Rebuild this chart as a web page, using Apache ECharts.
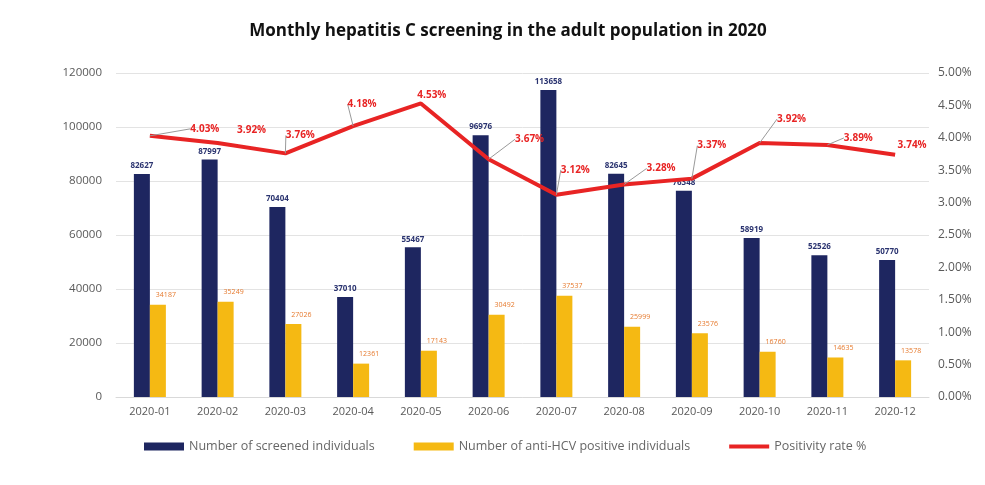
<!DOCTYPE html>
<html><head><meta charset="utf-8">
<script src="https://cdn.jsdelivr.net/npm/echarts@6/dist/echarts.min.js"></script>
<style>html,body{margin:0;padding:0;background:#fff}#c{width:985px;height:485px}</style>
</head><body><div id="c"></div>
<script>
const categories = ['2020-01','2020-02','2020-03','2020-04','2020-05','2020-06','2020-07','2020-08','2020-09','2020-10','2020-11','2020-12'];
const screened = [82627, 87997, 70404, 37010, 55467, 96976, 113658, 82645, 76348, 58919, 52526, 50770];
const positive = [34187, 35249, 27026, 12361, 17143, 30492, 37537, 25999, 23576, 16760, 14635, 13578];
const rate = [4.03, 3.92, 3.76, 4.18, 4.53, 3.67, 3.12, 3.28, 3.37, 3.92, 3.89, 3.74];
const leftTicks = [0, 20000, 40000, 60000, 80000, 100000, 120000];
const rightTicks = ['0.00%','0.50%','1.00%','1.50%','2.00%','2.50%','3.00%','3.50%','4.00%','4.50%','5.00%'];

// label shifts for rate labels (style only)
const labelShift = [[55,3],[34,-3],[15,-8],[9,-12],[11,2],[41,-10],[19,-15],[37,-6],[20,-23],[32,-14],[31,3],[17,1]];
const noLeader = [1, 4, 11];

const chart = echarts.init(document.getElementById('c'), null, {renderer:'canvas'});
const grey = '#595959';
chart.setOption({
  backgroundColor: '#ffffff',
  animation: false,
  title: {
    text: 'Monthly hepatitis C screening in the adult population in 2020',
    left: 503, top: 18, textAlign: 'center',
    textStyle: {fontFamily: 'Open Sans', fontSize: 17, fontWeight: 'bold', color: '#111'}
  },
  legend: {
    bottom: 27, left: 139,
    itemGap: 39, itemWidth: 40, itemHeight: 8,
    textStyle: {fontFamily: 'Open Sans', fontSize: 12.5, color: '#666'},
    data: [
      {name: 'Number of screened individuals', icon: 'rect'},
      {name: 'Number of anti-HCV positive individuals', icon: 'rect'},
      {name: 'Positivity rate %', icon: 'path://M0,0 L10,0 L10,1 L0,1 Z'}
    ]
  },
  grid: {left: 116, right: 56, top: 73, bottom: 88},
  xAxis: {
    type: 'category', data: categories,
    axisLine: {lineStyle: {color: '#d9d9d9'}},
    axisTick: {show: false},
    axisLabel: {fontFamily: 'Open Sans', fontSize: 11, color: grey, margin: 9}
  },
  yAxis: [
    {
      type: 'value', min: leftTicks[0], max: leftTicks[leftTicks.length-1], interval: 20000,
      axisLine: {show: false}, axisTick: {show: false},
      axisLabel: {fontFamily: 'Open Sans', fontSize: 11.5, color: grey, margin: 14,
        formatter: (v) => String(v)},
      splitLine: {lineStyle: {color: '#e3e3e3', width: 1}}
    },
    {
      type: 'value', min: 0, max: 5, interval: 0.5,
      axisLine: {show: false}, axisTick: {show: false},
      axisLabel: {fontFamily: 'Open Sans', fontSize: 12, color: grey, margin: 9,
        formatter: (v) => rightTicks[Math.round(v / 0.5)]},
      splitLine: {show: false}
    }
  ],
  series: [
    {
      name: 'Number of screened individuals', type: 'bar', data: screened,
      barWidth: 16, barGap: '0%',
      itemStyle: {color: '#1e2660'},
      label: {show: true, position: 'top', distance: 4,
        fontFamily: 'Open Sans', fontSize: 8, fontWeight: 'bold', color: '#2b3470'}
    },
    {
      name: 'Number of anti-HCV positive individuals', type: 'bar', data: positive,
      barWidth: 16,
      itemStyle: {color: '#f5b913'},
      label: {show: true, position: 'top', distance: 6, offset: [8, 0],
        fontFamily: 'Open Sans', fontSize: 7, color: '#e67a2e'}
    },
    {
      name: 'Positivity rate %', type: 'line', yAxisIndex: 1,
      data: rate.map((v, i) => noLeader.includes(i) ? {value: v, labelLine: {show: false}} : v),
      showSymbol: true, symbol: 'circle', symbolSize: 0,
      lineStyle: {color: '#e82424', width: 4},
      itemStyle: {color: '#e82424'},
      z: 5,
      label: {show: true, position: 'top', distance: 5,
        fontFamily: 'Open Sans', fontSize: 10, fontWeight: 'bold', color: '#e82424',
        formatter: (p) => Number(p.value).toFixed(2) + '%'},
      labelLine: {show: true, lineStyle: {color: '#9a9a9a', width: 1}},
      labelLayout: (p) => ({dx: labelShift[p.dataIndex][0], dy: labelShift[p.dataIndex][1]})
    }
  ]
});
</script></body></html>
